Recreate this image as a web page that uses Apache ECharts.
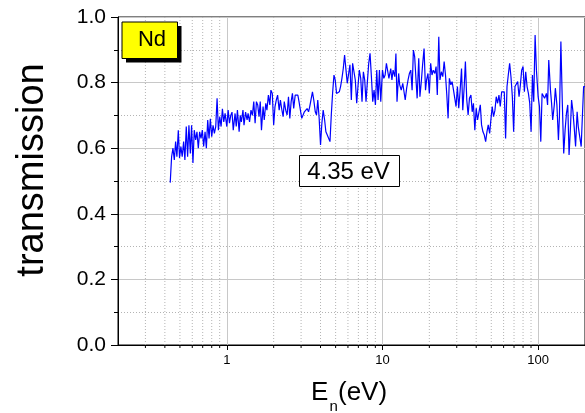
<!DOCTYPE html>
<html>
<head>
<meta charset="utf-8">
<script src="https://cdn.jsdelivr.net/npm/echarts@6/dist/echarts.min.js"></script>
<style>
  html, body { margin: 0; padding: 0; background: #fff; }
  #chart { width: 585px; height: 413px; }
</style>
</head>
<body>
<div id="chart"></div>
<script>
// neutron energy (eV), sampled evenly on the log axis
var energy = [
  0.433, 0.442, 0.451, 0.460, 0.469, 0.478, 0.488, 0.497, 0.507, 0.517,
  0.528, 0.538, 0.549, 0.560, 0.571, 0.583, 0.594, 0.606, 0.618, 0.631,
  0.643, 0.656, 0.669, 0.683, 0.696, 0.710, 0.725, 0.739, 0.754, 0.769,
  0.784, 0.800, 0.816, 0.832, 0.849, 0.866, 0.883, 0.901, 0.919, 0.937,
  0.956, 0.975,
  1.00, 1.02, 1.04, 1.06, 1.08, 1.10, 1.13, 1.15, 1.17, 1.20,
  1.22, 1.24, 1.27, 1.29, 1.32, 1.35, 1.37, 1.40, 1.43, 1.46,
  1.49, 1.52, 1.55, 1.58, 1.61, 1.64, 1.67, 1.71, 1.74, 1.78,
  1.81, 1.85, 1.89, 1.92, 1.96, 2.00, 2.04, 2.08, 2.12, 2.17,
  2.21, 2.25, 2.30, 2.34, 2.39, 2.44, 2.49, 2.54, 2.59, 2.64,
  2.69, 2.75, 2.80, 2.86, 2.91, 2.97, 3.03, 3.09, 3.15, 3.22,
  3.28, 3.35, 3.41, 3.48, 3.55, 3.62, 3.70, 3.77, 3.84, 3.92,
  4.00, 4.08, 4.16, 4.25, 4.33, 4.42, 4.51, 4.60, 4.69, 4.78,
  4.88, 4.97, 5.07, 5.17, 5.28, 5.38, 5.49, 5.60, 5.71, 5.83,
  5.94, 6.06, 6.18, 6.31, 6.43, 6.56, 6.69, 6.83, 6.96, 7.10,
  7.25, 7.39, 7.54, 7.69, 7.84, 8.00, 8.16, 8.32, 8.49, 8.66,
  8.83, 9.01, 9.19, 9.37, 9.56, 9.75,
  10.0, 10.2, 10.4, 10.6, 10.8, 11.0, 11.3, 11.5, 11.7, 12.0,
  12.2, 12.4, 12.7, 12.9, 13.2, 13.5, 13.7, 14.0, 14.3, 14.6,
  14.9, 15.2, 15.5, 15.8, 16.1, 16.4, 16.7, 17.1, 17.4, 17.8,
  18.1, 18.5, 18.9, 19.2, 19.6, 20.0, 20.4, 20.8, 21.2, 21.7,
  22.1, 22.5, 23.0, 23.4, 23.9, 24.4, 24.9, 25.4, 25.9, 26.4,
  26.9, 27.5, 28.0, 28.6, 29.1, 29.7, 30.3, 30.9, 31.5, 32.2,
  32.8, 33.5, 34.1, 34.8, 35.5, 36.2, 37.0, 37.7, 38.4, 39.2,
  40.0, 40.8, 41.6, 42.5, 43.3, 44.2, 45.1, 46.0, 46.9, 47.8,
  48.8, 49.7, 50.7, 51.7, 52.8, 53.8, 54.9, 56.0, 57.1, 58.3,
  59.4, 60.6, 61.8, 63.1, 64.3, 65.6, 66.9, 68.3, 69.6, 71.0,
  72.5, 73.9, 75.4, 76.9, 78.4, 80.0, 81.6, 83.2, 84.9, 86.6,
  88.3, 90.1, 91.9, 93.7, 95.6, 97.5,
  100, 102, 104, 106, 108, 110, 113, 115, 117, 120,
  122, 124, 127, 129, 132, 135, 137, 140, 143, 146,
  149, 152, 155, 158, 161, 164, 167, 171, 174, 178,
  181, 185, 189, 192, 196, 200
];

// transmission
var trans = [
  0.495, 0.574, 0.600, 0.564, 0.620, 0.574, 0.655, 0.570, 0.605, 0.574,
  0.620, 0.564, 0.666, 0.574, 0.670, 0.584, 0.670, 0.555, 0.655, 0.625,
  0.650, 0.600, 0.650, 0.630, 0.655, 0.605, 0.650, 0.600, 0.686, 0.630,
  0.690, 0.635, 0.670, 0.645, 0.666, 0.752, 0.655, 0.696, 0.666, 0.720,
  0.680, 0.706, 0.666, 0.716, 0.676, 0.700, 0.710, 0.655, 0.706, 0.666,
  0.716, 0.650, 0.700, 0.680, 0.716, 0.670, 0.710, 0.686, 0.706, 0.680,
  0.716, 0.700,
  0.742, 0.676, 0.742, 0.732, 0.696, 0.742, 0.655, 0.727, 0.686, 0.737,
  0.716, 0.762, 0.732, 0.777, 0.767, 0.671, 0.727, 0.747, 0.762, 0.716,
  0.747, 0.721, 0.696, 0.742, 0.716, 0.701, 0.757, 0.691, 0.742, 0.767,
  0.721, 0.762, 0.757, 0.762, 0.742, 0.716, 0.691, 0.686, 0.711, 0.716,
  0.721, 0.711, 0.727, 0.732, 0.772, 0.747, 0.711, 0.701, 0.747, 0.691,
  0.610, 0.676, 0.716, 0.686, 0.650, 0.640, 0.635, 0.620, 0.701, 0.767,
  0.823, 0.808, 0.767, 0.762,
  0.772, 0.788, 0.813, 0.843, 0.884, 0.838, 0.798, 0.793, 0.854, 0.747,
  0.859, 0.864, 0.808, 0.737, 0.788, 0.838, 0.813, 0.742, 0.833, 0.808,
  0.742, 0.803, 0.859, 0.889, 0.818, 0.742, 0.777, 0.732, 0.838, 0.747,
  0.838, 0.742, 0.838, 0.813, 0.823, 0.859, 0.864, 0.813, 0.843, 0.808,
  0.838, 0.818, 0.889, 0.742, 0.828, 0.793, 0.777, 0.798, 0.793, 0.747,
  0.783, 0.808, 0.828, 0.838, 0.777, 0.899, 0.879, 0.813, 0.752, 0.874,
  0.757, 0.808, 0.854, 0.904, 0.777, 0.808, 0.828, 0.767, 0.859, 0.823,
  0.838, 0.828, 0.849, 0.762, 0.940, 0.808, 0.833, 0.818, 0.864, 0.823,
  0.762, 0.691, 0.813, 0.793, 0.803, 0.777, 0.783, 0.727, 0.788, 0.722,
  0.772, 0.843, 0.716, 0.788, 0.864, 0.747, 0.701, 0.752, 0.762, 0.711,
  0.737, 0.655, 0.722, 0.686, 0.691, 0.732, 0.671, 0.650, 0.640, 0.620,
  0.650, 0.671, 0.645, 0.686, 0.727, 0.696, 0.716, 0.757, 0.737, 0.762,
  0.727, 0.772, 0.777, 0.772,
  0.630, 0.788, 0.823, 0.859, 0.818, 0.757, 0.650, 0.788, 0.793, 0.803,
  0.757, 0.793, 0.838, 0.849, 0.772, 0.833, 0.788, 0.767, 0.737, 0.650,
  0.823, 0.742, 0.945, 0.838, 0.757, 0.727, 0.620, 0.767, 0.772, 0.752,
  0.767, 0.732, 0.869, 0.777, 0.737, 0.686, 0.732, 0.783, 0.732, 0.625,
  0.696, 0.925, 0.737, 0.584, 0.655, 0.706, 0.732, 0.579, 0.655, 0.747,
  0.716, 0.655, 0.605, 0.711, 0.666, 0.661, 0.605, 0.686, 0.788, 0.788
];

// minor log gridlines (2..9 per decade)
var minorE = [0.3, 0.4, 0.5, 0.6, 0.7, 0.8, 0.9,
  2, 3, 4, 5, 6, 7, 8, 9,
  20, 30, 40, 50, 60, 70, 80, 90];

var legendText = 'Nd';
var noteText = '4.35 eV';

var FONT = '"Liberation Sans", Arial, sans-serif';
var GRID_C = '#c8c8c8';
var DOT_C = '#b4b4b4';

var myChart = echarts.init(document.getElementById('chart'));

var lineData = energy.map(function (e, i) { return [e, trans[i]]; });

var options = {
  animation: false,
  backgroundColor: '#fff',
  grid: {
    left: 118, top: 17, width: 468, height: 328,
    show: true, borderColor: '#000', borderWidth: 1
  },
  xAxis: {
    type: 'log',
    logBase: 10,
    min: 0.2,
    max: 200,
    axisLine: { show: true, lineStyle: { color: '#000', width: 1 } },
    axisTick: { show: true, inside: false, length: 5, lineStyle: { color: '#000' } },
    axisLabel: {
      show: true, margin: 9, fontSize: 13, color: '#000', fontFamily: FONT,
      showMinLabel: false, showMaxLabel: false
    },
    splitLine: { show: true, lineStyle: { color: GRID_C, width: 1, type: 'solid' } },
    minorTick: { show: false },
    minorSplitLine: { show: false }
  },
  yAxis: {
    type: 'value',
    min: 0, max: 1, interval: 0.2,
    axisLine: { show: true, lineStyle: { color: '#000', width: 1 } },
    axisTick: { show: true, inside: false, length: 7, lineStyle: { color: '#000' } },
    minorTick: { show: true, splitNumber: 2, length: 4, lineStyle: { color: '#000' } },
    axisLabel: {
      margin: 12, fontSize: 21, color: '#000', fontFamily: FONT,
      formatter: function (v) { return v.toFixed(1); }
    },
    splitLine: { show: true, lineStyle: { color: GRID_C, width: 1 } },
    minorSplitLine: { show: true, lineStyle: { color: DOT_C, width: 1, type: [1, 2] } }
  },
  series: [
    {
      // minor vertical gridlines + ticks for the log axis
      type: 'custom',
      z: 1,
      silent: true,
      data: minorE.map(function (e) { return [e, 0]; }),
      encode: { x: 0, y: 1 },
      renderItem: function (params, api) {
        var b = api.coord([api.value(0), 0]);
        var t = api.coord([api.value(0), 1]);
        return {
          type: 'group',
          children: [
            {
              type: 'line',
              shape: { x1: b[0], y1: t[1], x2: b[0], y2: b[1] },
              style: { stroke: DOT_C, lineWidth: 1, lineDash: [1, 2] }
            },
            {
              type: 'line',
              shape: { x1: b[0], y1: b[1], x2: b[0], y2: b[1] + 3 },
              style: { stroke: '#000', lineWidth: 1 }
            }
          ]
        };
      }
    },
    {
      name: 'Nd',
      type: 'line',
      z: 3,
      showSymbol: false,
      symbol: 'none',
      lineStyle: { color: '#0000ff', width: 1.2 },
      itemStyle: { color: '#0000ff' },
      data: lineData
    }
  ],
  graphic: [
    // y axis title
    {
      type: 'text', x: 33, y: 170, rotation: Math.PI / 2,
      style: {
        text: 'transmission', fill: '#000', font: '38px ' + FONT,
        align: 'center', verticalAlign: 'middle'
      }
    },
    // x axis title  E_n(eV)
    {
      type: 'text', x: 311, y: 393,
      style: { text: 'E', fill: '#000', font: '26px ' + FONT, align: 'left', verticalAlign: 'middle' }
    },
    {
      type: 'text', x: 329.5, y: 406.5,
      style: { text: 'n', fill: '#000', font: '15px ' + FONT, align: 'left', verticalAlign: 'middle' }
    },
    {
      type: 'text', x: 338, y: 393,
      style: { text: '(eV)', fill: '#000', font: '26px ' + FONT, align: 'left', verticalAlign: 'middle' }
    },
    // legend box with shadow
    {
      type: 'rect', z: 10,
      shape: { x: 126, y: 26, width: 55.5, height: 36.5 },
      style: { fill: '#000' }
    },
    {
      type: 'rect', z: 11,
      shape: { x: 122, y: 22, width: 55.5, height: 36.5 },
      style: { fill: '#ffff00', stroke: '#000', lineWidth: 1 }
    },
    {
      type: 'text', z: 12, x: 152, y: 39.5,
      style: {
        text: legendText, fill: '#000', font: '22px ' + FONT,
        align: 'center', verticalAlign: 'middle'
      }
    },
    // annotation box
    {
      type: 'rect', z: 10,
      shape: { x: 299.5, y: 155.5, width: 100, height: 31 },
      style: { fill: '#fff', stroke: '#000', lineWidth: 1 }
    },
    {
      type: 'text', z: 11, x: 348.5, y: 172,
      style: {
        text: noteText, fill: '#000', font: '24px ' + FONT,
        align: 'center', verticalAlign: 'middle'
      }
    }
  ]
};

myChart.setOption(options, true);
</script>
</body>
</html>
